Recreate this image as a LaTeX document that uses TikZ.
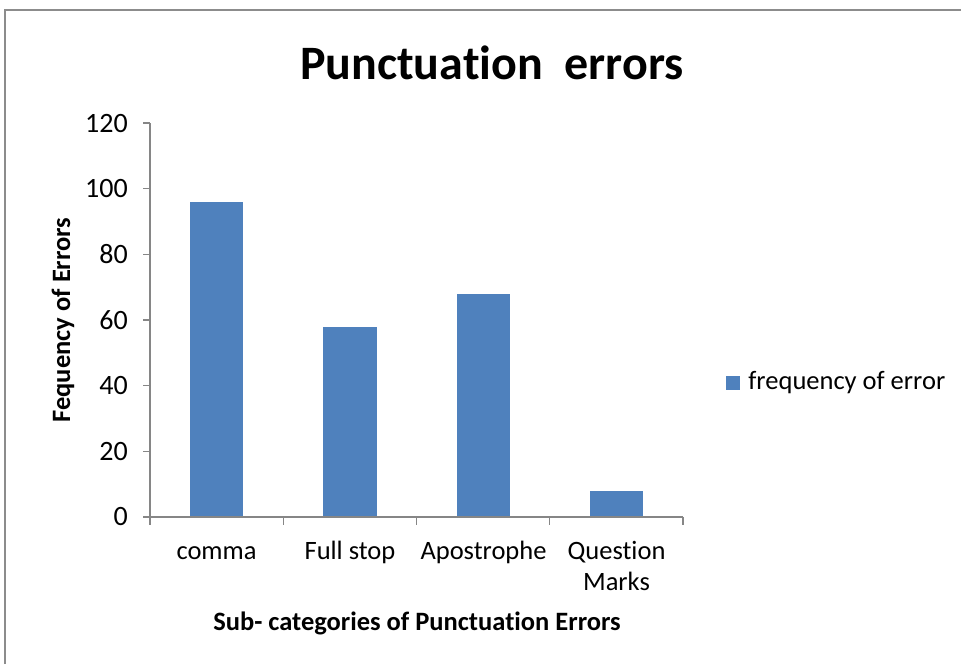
\documentclass[tikz,border=0pt]{standalone}
\usepackage{fontspec}
\setmainfont{Carlito}[RawFeature={-liga;-clig;-dlig;-calt}]
\definecolor{barblue}{HTML}{4F81BD}
\definecolor{axisgray}{HTML}{868686}
\definecolor{framegray}{HTML}{8C8C8C}
\begin{document}
\begin{tikzpicture}%
[x=1pt,y=1pt,
every node/.style={inner sep=0pt, text=black},
ticklabel/.style={font=\fontsize{28}{34}\selectfont},
catlabel/.style={font=\fontsize{26.5}{31}\selectfont, align=center, anchor=base},
axistitle/.style={font=\bfseries\fontsize{26.5}{31}\selectfont},
bar/.style={fill=barblue, draw=none}]
\useasboundingbox (0,0) rectangle (961,664);
% outer frame (only top and left edges are visible)
\draw [framegray, line width=2pt] (5,0) -- (5,654) -- (961,654);
% title
\node (title) at (492,601) {\bfseries\fontsize{48}{56}\selectfont Punctuation\ \ errors};
\begin{scope}[shift={(150,147)}, y=3.283pt]
% bars
\fill [bar] (40,0) rectangle (93,96);
\fill [bar] (173,0) rectangle (227,58);
\fill [bar] (307,0) rectangle (360,68);
\fill [bar] (440,0) rectangle (493,8);
% axes
\draw [axisgray, line width=1.3pt] (0,120) -- (0,0) -- (533,0);
\foreach \v in {0,20,...,120}
  {\draw [axisgray, line width=1.3pt] (-7,\v) -- (0,\v);
   \node [ticklabel, anchor=east] (y\v) at (-22,\v) {\v};}
\foreach \c in {0,133.25,266.5,399.75,533}
  \draw [axisgray, line width=1.3pt] (\c,0) -- (\c,-2.5);
\end{scope}
% category labels
\node [catlabel] (comma) at (216.5,104) {comma};
\node [catlabel] (fullstop) at (350,104) {Full stop};
\node [catlabel] (apostrophe) at (483.5,104) {Apostrophe};
\node [catlabel, anchor=north] (question) at (616.5,123) {Question\\Marks};
% axis titles
\node [axistitle, anchor=base] (xtitle) at (417,34) {Sub- categories of Punctuation Errors};
\node [axistitle, rotate=90] (ytitle) at (63,344) {Fequency of Errors};
% legend
\node [fill=barblue, minimum size=14pt] (legkey) at (733,281) {};
\node [anchor=west, font=\fontsize{26.5}{31}\selectfont] (legtext) at ([xshift=8pt]legkey.east) {frequency of error};
\end{tikzpicture}
\end{document}
